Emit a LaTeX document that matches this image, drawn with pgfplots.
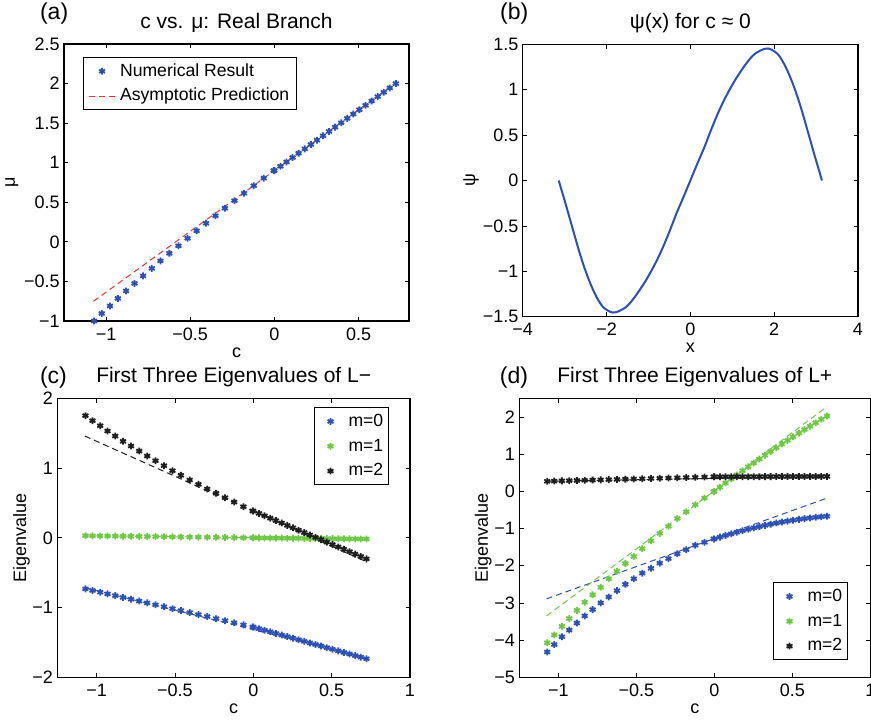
\documentclass[border=0pt]{standalone}
\usepackage{fontspec}
\setmainfont{Liberation Sans}
\usepackage{pgfplots}
\pgfplotsset{compat=1.18}

\definecolor{mblue}{RGB}{45,80,180}
\definecolor{mgreen}{RGB}{110,200,70}
\definecolor{mblack}{RGB}{30,30,30}
\definecolor{mred}{RGB}{235,50,50}

\newcommand{\tfont}{\fontsize{9}{10}\selectfont}
\newcommand{\lfont}{\fontsize{8.8}{10}\selectfont}

\pgfplotsset{
  panel/.style={
    scale only axis, clip=false,
    axis line style={line width=0.6pt},
    tick align=inside, major tick length=2.2pt,
    tick style={line width=0.4pt, black},
    ticklabel style={font=\tfont},
    xticklabel style={anchor=base, yshift=-9.5pt},
    yticklabel style={inner xsep=2pt},
    every axis title/.style={at={([yshift=7.8pt]axis description cs:0.5,1)}, anchor=base, font=\fontsize{10.5}{12}\selectfont},
    every axis x label/.style={at={([yshift=-18pt]axis description cs:0.5,0)}, anchor=base, font=\tfont},
    legend cell align=left,
    legend style={draw=black, line width=0.6pt, fill=white, font=\lfont,
      inner xsep=1.5pt, inner ysep=0.6pt,
      nodes={inner sep=1pt, text height=7.6pt, text depth=2.8pt}},
    legend image code/.code={\path[draw=none, fill=none] (0pt,-2pt) rectangle (14.5pt,2pt);
      \draw[mark repeat=2,mark phase=2,#1] plot coordinates {(0pt,0pt) (6.5pt,0pt) (13pt,0pt)};},
  },
  ylab/.style={every axis y label/.style={at={([xshift=-#1]axis description cs:0,0.5)}, rotate=90, anchor=base, font=\tfont}},
  pts/.style={only marks, mark=asterisk, mark size=1.7pt, line width=0.9pt, color=#1, draw=#1},
  asy/.style={draw=#1, line width=0.5pt, dash pattern=on 3pt off 2pt, forget plot},
}

\begin{document}
\begin{tikzpicture}

% (a) c vs mu
\begin{axis}[panel, ylab=24.5pt,
  at={(32pt,199pt)}, anchor=south west, width=172.5pt, height=138.5pt,
  xmin=-1.25, xmax=0.8, ymin=-1, ymax=2.5,
  xtick={-1,-0.5,0,0.5}, xticklabels={−1,−0.5,0,0.5},
  ytick={-1,-0.5,0,0.5,1,1.5,2,2.5}, yticklabels={−1,−0.5,0,0.5,1,1.5,2,2.5},
  title={c vs. μ: Real Branch}, xlabel={c}, ylabel={μ},
  legend style={at={(0.055,0.953)}, anchor=north west, inner xsep=2.5pt},
]
\addplot[pts=mblue] coordinates {
(-1.071,-1.000) (-1.026,-0.905) (-0.977,-0.810) (-0.930,-0.715) (-0.881,-0.620) (-0.831,-0.525) (-0.780,-0.430)
(-0.728,-0.335) (-0.677,-0.240) (-0.624,-0.145) (-0.570,-0.050) (-0.516,0.045) (-0.462,0.140) (-0.406,0.235)
(-0.350,0.330) (-0.294,0.425) (-0.237,0.520) (-0.180,0.615) (-0.122,0.710) (-0.063,0.805) (-0.004,0.900)
(0.000,0.900) (0.036,0.955) (0.072,1.010) (0.108,1.065) (0.144,1.120) (0.181,1.175) (0.217,1.230)
(0.253,1.285) (0.289,1.340) (0.325,1.395) (0.361,1.450) (0.397,1.505) (0.433,1.560) (0.469,1.615)
(0.505,1.670) (0.542,1.725) (0.578,1.780) (0.614,1.835) (0.650,1.890) (0.686,1.945) (0.722,2.000)};
\addplot[draw=mred, line width=0.5pt, dash pattern=on 3pt off 2pt] coordinates {(-1.075,-0.751) (0.725,2.014)};
\legend{Numerical Result, Asymptotic Prediction}
\node[anchor=base west, font=\fontsize{11.5}{13}\selectfont] at ([xshift=-15.5pt,yshift=12.2pt]rel axis cs:0,1) {(a)};
\end{axis}

% (b) psi(x)
\begin{axis}[panel, ylab=23.8pt,
  at={(261.35pt,201.15pt)}, anchor=south west, width=167.65pt, height=136.2pt,
  xmin=-4, xmax=4, ymin=-1.5, ymax=1.5,
  xtick={-4,-2,0,2,4}, xticklabels={−4,−2,0,2,4},
  ytick={-1.5,-1,-0.5,0,0.5,1,1.5}, yticklabels={−1.5,−1,−0.5,0,0.5,1,1.5},
  title={ψ(x) for c ≈ 0}, xlabel={x}, ylabel={ψ},
]
\addplot[color=mblue, line width=1pt, smooth] coordinates {
(-3.14,0) (-3.09,-0.08) (-3.03,-0.173) (-2.95,-0.30) (-2.87,-0.43) (-2.79,-0.56) (-2.71,-0.69) (-2.63,-0.815)
(-2.55,-0.93) (-2.47,-1.035) (-2.39,-1.13) (-2.31,-1.215) (-2.23,-1.29) (-2.16,-1.345) (-2.08,-1.395)
(-1.96,-1.435) (-1.853,-1.454) (-1.75,-1.447) (-1.64,-1.424) (-1.54,-1.395) (-1.44,-1.35) (-1.32,-1.28)
(-1.20,-1.20) (-1.08,-1.115) (-0.96,-1.02) (-0.80,-0.88) (-0.644,-0.725) (-0.48,-0.54) (-0.326,-0.357)
(-0.16,-0.178) (0,0) (0.16,0.178) (0.326,0.357) (0.48,0.54) (0.644,0.725) (0.80,0.88) (0.96,1.02)
(1.08,1.115) (1.20,1.20) (1.32,1.28) (1.44,1.35) (1.54,1.395) (1.64,1.424) (1.75,1.447) (1.853,1.454)
(1.96,1.435) (2.08,1.395) (2.16,1.345) (2.23,1.29) (2.31,1.215) (2.39,1.13) (2.47,1.035) (2.55,0.93)
(2.63,0.815) (2.71,0.69) (2.79,0.56) (2.87,0.43) (2.95,0.30) (3.03,0.173) (3.09,0.08) (3.14,0)};
\node[anchor=base west, font=\fontsize{11.5}{13}\selectfont] at ([xshift=-14.8pt,yshift=12.4pt]rel axis cs:0,1) {(b)};
\end{axis}

% (c) eigenvalues of L-
\begin{axis}[panel, ylab=15.6pt,
  at={(28.7pt,20.85pt)}, anchor=south west, width=176.3pt, height=139.5pt,
  xmin=-1.25, xmax=1, ymin=-2, ymax=2,
  xtick={-1,-0.5,0,0.5,1}, xticklabels={−1,−0.5,0,0.5,1},
  ytick={-2,-1,0,1,2}, yticklabels={−2,−1,0,1,2},
  title={First Three Eigenvalues of L−}, xlabel={c}, ylabel={Eigenvalue},
  legend style={at={(0.940,0.968)}, anchor=north east},
]
\addplot[asy=mblue] coordinates {(-1.075,-0.715) (0.724,-1.72)};
\addplot[asy=mgreen] coordinates {(-1.075,0.030) (0.724,-0.017)};
\addplot[asy=mblack] coordinates {(-1.075,1.459) (0.724,-0.345)};
\addplot[pts=mblue] coordinates {
(-1.071,-0.732) (-1.026,-0.755) (-0.977,-0.780) (-0.930,-0.804) (-0.881,-0.829) (-0.831,-0.855) (-0.780,-0.881)
(-0.728,-0.907) (-0.677,-0.933) (-0.624,-0.961) (-0.570,-0.988) (-0.516,-1.016) (-0.462,-1.043) (-0.406,-1.072)
(-0.350,-1.101) (-0.294,-1.129) (-0.237,-1.159) (-0.180,-1.188) (-0.122,-1.218) (-0.063,-1.248) (-0.004,-1.278)
(0.000,-1.280) (0.036,-1.303) (0.072,-1.325) (0.108,-1.348) (0.144,-1.371) (0.181,-1.394) (0.217,-1.416)
(0.253,-1.439) (0.289,-1.462) (0.325,-1.484) (0.361,-1.507) (0.397,-1.530) (0.433,-1.552) (0.469,-1.575)
(0.505,-1.598) (0.542,-1.621) (0.578,-1.644) (0.614,-1.666) (0.650,-1.689) (0.686,-1.711) (0.722,-1.734)};
\addplot[pts=mgreen] coordinates {
(-1.071,0.030) (-1.026,0.029) (-0.977,0.027) (-0.930,0.026) (-0.881,0.025) (-0.831,0.023) (-0.780,0.022)
(-0.728,0.020) (-0.677,0.019) (-0.624,0.017) (-0.570,0.016) (-0.516,0.014) (-0.462,0.013) (-0.406,0.011)
(-0.350,0.010) (-0.294,0.008) (-0.237,0.007) (-0.180,0.005) (-0.122,0.003) (-0.063,0.002) (-0.004,0.000)
(0.000,0.000) (0.036,-0.001) (0.072,-0.002) (0.108,-0.003) (0.144,-0.003) (0.181,-0.004) (0.217,-0.005)
(0.253,-0.006) (0.289,-0.007) (0.325,-0.008) (0.361,-0.009) (0.397,-0.010) (0.433,-0.010) (0.469,-0.011)
(0.505,-0.012) (0.542,-0.013) (0.578,-0.014) (0.614,-0.015) (0.650,-0.016) (0.686,-0.016) (0.722,-0.017)};
\addplot[pts=mblack] coordinates {
(-1.071,1.751) (-1.026,1.679) (-0.977,1.607) (-0.930,1.531) (-0.881,1.459) (-0.831,1.383) (-0.780,1.316)
(-0.728,1.244) (-0.677,1.173) (-0.624,1.105) (-0.570,1.034) (-0.516,0.962) (-0.462,0.896) (-0.406,0.829)
(-0.350,0.767) (-0.294,0.700) (-0.237,0.638) (-0.180,0.575) (-0.122,0.513) (-0.063,0.446) (-0.004,0.384)
(0.000,0.384) (0.036,0.350) (0.072,0.316) (0.108,0.281) (0.144,0.247) (0.181,0.212) (0.217,0.178)
(0.253,0.144) (0.289,0.109) (0.325,0.075) (0.361,0.041) (0.397,0.007) (0.433,-0.027) (0.469,-0.062)
(0.505,-0.096) (0.542,-0.131) (0.578,-0.165) (0.614,-0.199) (0.650,-0.234) (0.686,-0.268) (0.722,-0.302)};
\legend{m=0, m=1, m=2}
\node[anchor=base west, font=\fontsize{11.5}{13}\selectfont] at ([xshift=-12.2pt,yshift=7.2pt]rel axis cs:0,1) {(c)};
\end{axis}

% (d) eigenvalues of L+
\begin{axis}[panel, ylab=15.7pt,
  at={(259.65pt,20.85pt)}, anchor=south west, width=175.5pt, height=139.5pt,
  xmin=-1.25, xmax=1, ymin=-5, ymax=2.5,
  xtick={-1,-0.5,0,0.5,1}, xticklabels={−1,−0.5,0,0.5,1},
  ytick={-5,-4,-3,-2,-1,0,1,2}, yticklabels={−5,−4,−3,−2,−1,0,1,2},
  title={First Three Eigenvalues of L+}, xlabel={c}, ylabel={Eigenvalue},
  legend style={at={(0.936,0.061)}, anchor=south east},
]
\addplot[asy=mblue] coordinates {(-1.075,-2.89) (0.724,-0.18)};
\addplot[asy=mgreen] coordinates {(-1.075,-3.35) (0.724,2.28)};
\addplot[asy=mblack] coordinates {(-1.075,0.27) (0.724,0.40)};
\addplot[pts=mblue] coordinates {
(-1.071,-4.32) (-1.026,-4.12) (-0.977,-3.91) (-0.930,-3.73) (-0.881,-3.54) (-0.831,-3.35) (-0.780,-3.18)
(-0.728,-3.00) (-0.677,-2.84) (-0.624,-2.67) (-0.570,-2.50) (-0.516,-2.35) (-0.462,-2.20) (-0.406,-2.07)
(-0.350,-1.93) (-0.294,-1.81) (-0.237,-1.68) (-0.180,-1.57) (-0.122,-1.45) (-0.063,-1.37) (-0.004,-1.28)
(0.000,-1.280) (0.036,-1.232) (0.072,-1.186) (0.108,-1.142) (0.144,-1.100) (0.181,-1.059) (0.217,-1.020)
(0.253,-0.983) (0.289,-0.948) (0.325,-0.915) (0.361,-0.884) (0.397,-0.854) (0.433,-0.827) (0.469,-0.801)
(0.505,-0.777) (0.542,-0.754) (0.578,-0.734) (0.614,-0.715) (0.650,-0.698) (0.686,-0.683) (0.722,-0.670)};
\addplot[pts=mgreen] coordinates {
(-1.071,-4.07) (-1.026,-3.86) (-0.977,-3.63) (-0.930,-3.42) (-0.881,-3.20) (-0.831,-2.98) (-0.780,-2.78)
(-0.728,-2.58) (-0.677,-2.35) (-0.624,-2.15) (-0.570,-1.94) (-0.516,-1.75) (-0.462,-1.54) (-0.406,-1.33)
(-0.350,-1.13) (-0.294,-0.94) (-0.237,-0.73) (-0.180,-0.55) (-0.122,-0.36) (-0.063,-0.18) (-0.004,-0.01)
(0.000,0.000) (0.036,0.112) (0.072,0.223) (0.108,0.333) (0.144,0.441) (0.181,0.552) (0.217,0.658)
(0.253,0.763) (0.289,0.867) (0.325,0.970) (0.361,1.071) (0.397,1.172) (0.433,1.271) (0.469,1.369)
(0.505,1.466) (0.542,1.564) (0.578,1.659) (0.614,1.752) (0.650,1.844) (0.686,1.935) (0.722,2.025)};
\addplot[pts=mblack] coordinates {
(-1.071,0.270) (-1.026,0.275) (-0.977,0.281) (-0.930,0.286) (-0.881,0.291) (-0.831,0.297) (-0.780,0.303)
(-0.728,0.308) (-0.677,0.314) (-0.624,0.320) (-0.570,0.326) (-0.516,0.332) (-0.462,0.338) (-0.406,0.345)
(-0.350,0.351) (-0.294,0.357) (-0.237,0.363) (-0.180,0.370) (-0.122,0.376) (-0.063,0.383) (-0.004,0.390)
(0.000,0.390) (0.036,0.390) (0.072,0.391) (0.108,0.392) (0.144,0.392) (0.181,0.393) (0.217,0.393)
(0.253,0.394) (0.289,0.394) (0.325,0.395) (0.361,0.395) (0.397,0.396) (0.433,0.396) (0.469,0.397)
(0.505,0.397) (0.542,0.398) (0.578,0.398) (0.614,0.399) (0.650,0.399) (0.686,0.400) (0.722,0.400)};
\legend{m=0, m=1, m=2}
\node[anchor=base west, font=\fontsize{11.5}{13}\selectfont] at ([xshift=-13.2pt,yshift=7.2pt]rel axis cs:0,1) {(d)};
\end{axis}

\pgfresetboundingbox
\path[use as bounding box] (0pt,0pt) rectangle (435.5pt,359.5pt);
\end{tikzpicture}
\end{document}
